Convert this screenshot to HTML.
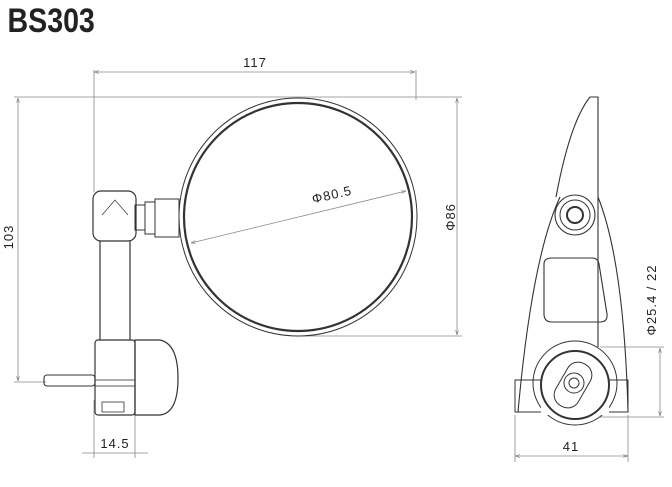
<!DOCTYPE html>
<html><head><style>
html,body{margin:0;padding:0;background:#fff;}
svg{display:block;}
text{font-family:"Liberation Sans",sans-serif;fill:#222;}
</style></head><body>
<svg width="672" height="487" viewBox="0 0 672 487" xmlns="http://www.w3.org/2000/svg">
<defs>
<marker id="a" viewBox="0 0 10 10" refX="10" refY="5" markerWidth="6" markerHeight="6" orient="auto-start-reverse"><path d="M0,2 L10,5 L0,8" fill="none" stroke="#777" stroke-width="1.2"/></marker>
</defs>
<text x="9" y="32" font-size="34" font-weight="bold" transform="scale(0.84,1)" fill="#111">BS303</text>

<g stroke="#888" stroke-width="0.8" fill="none">
<line x1="94" y1="72" x2="415" y2="72" marker-start="url(#a)" marker-end="url(#a)"/>
<line x1="94" y1="70" x2="94" y2="192"/>
<line x1="416" y1="70" x2="416" y2="100"/>
<line x1="18" y1="98" x2="18" y2="381" marker-start="url(#a)" marker-end="url(#a)"/>
<line x1="14" y1="97" x2="462" y2="97"/>
<line x1="14" y1="382" x2="46" y2="382"/>
<line x1="457" y1="98" x2="457" y2="335" marker-start="url(#a)" marker-end="url(#a)"/>
<line x1="298" y1="336" x2="462" y2="336"/>
<line x1="94" y1="400" x2="94" y2="458"/>
<line x1="135" y1="410" x2="135" y2="458"/>
<line x1="82" y1="453" x2="148" y2="453"/>
<line x1="515" y1="415" x2="515" y2="462"/>
<line x1="628" y1="415" x2="628" y2="462"/>
<line x1="515" y1="456" x2="628" y2="456" marker-start="url(#a)" marker-end="url(#a)"/>
<line x1="600" y1="347" x2="664" y2="347"/>
<line x1="600" y1="417" x2="664" y2="417"/>
<line x1="660" y1="348" x2="660" y2="416" marker-start="url(#a)" marker-end="url(#a)"/>
<line x1="191" y1="243" x2="406" y2="191" marker-start="url(#a)" marker-end="url(#a)"/>
</g>

<text x="255" y="67" font-size="13" text-anchor="middle" letter-spacing="1">117</text>
<text x="0" y="0" font-size="13" text-anchor="middle" letter-spacing="1" transform="translate(13,237) rotate(-90)">103</text>
<text x="0" y="0" font-size="13" text-anchor="middle" letter-spacing="1" transform="translate(455,217) rotate(-90)">Φ86</text>
<text x="0" y="0" font-size="13" text-anchor="middle" letter-spacing="1" transform="translate(333,199) rotate(-13)">Φ80.5</text>
<text x="115" y="448" font-size="13" text-anchor="middle" letter-spacing="1">14.5</text>
<text x="571" y="451" font-size="13" text-anchor="middle" letter-spacing="1">41</text>
<text x="0" y="0" font-size="13" text-anchor="middle" letter-spacing="1" transform="translate(656,300) rotate(-90)">Φ25.4 / 22</text>

<g fill="none" stroke="#333">
<circle cx="298" cy="217" r="119" stroke-width="1"/>
<circle cx="298" cy="217" r="114" stroke-width="2.2"/>
<path d="M135,205 h10 v25 h-10 z" stroke-width="1"/>
<path d="M145,202 h10 v32 h-10 z" stroke-width="1"/>
<path d="M155,199 h24 v38 h-24 z" stroke-width="1"/>
<rect x="93" y="191" width="43" height="50" rx="8" stroke-width="1.2"/>
<path d="M100,241 V340 M130,241 V340" stroke-width="1.2"/>
<path d="M102,215 L115,200 L128,215" stroke-width="0.7"/>
<rect x="95" y="340" width="40" height="75" rx="3" stroke-width="1.2"/>
<path d="M135,340 h25 q18,4 18,38 q0,35 -18,37 h-25 z" stroke-width="1.2"/>
<rect x="95" y="380" width="40" height="6" stroke-width="0.8"/>
<rect x="102" y="402" width="22" height="10" stroke-width="0.8"/>
<rect x="44" y="375" width="51" height="11" rx="3" stroke-width="1.1"/>
<path d="M590,97 h8 v250 M590,97 q-20,25 -34,100" stroke-width="1.1"/>
<path d="M560,197 q-28,60 -42,215 h110 q-4,-150 -30,-215" stroke-width="1.1"/>
<circle cx="575" cy="215" r="20" stroke-width="1.1"/>
<circle cx="575" cy="215" r="15" stroke-width="1"/>
<circle cx="575" cy="215" r="8" stroke-width="2"/>
<path d="M552,258 h40 q6,0 7,6 l8,50 q1,8 -7,8 h-48 q-8,0 -8,-8 v-50 q0,-6 8,-6 z" stroke-width="1.1"/>
<circle cx="575" cy="383" r="42" stroke-width="1"/>
<rect x="515" y="380" width="113" height="32" stroke-width="1"/>
</g>
<rect x="541" y="385" width="68" height="30" fill="#fff" stroke="none"/>
<circle cx="575" cy="385" r="34" fill="#fff" stroke="#333" stroke-width="2"/>
<rect x="560" y="361" width="26" height="48" rx="12" transform="rotate(30 573 385)" fill="none" stroke="#333"/>
<circle cx="574" cy="383" r="10" fill="none" stroke="#333"/>
<circle cx="574" cy="383" r="5" fill="none" stroke="#333"/>
</svg>
</body></html>
